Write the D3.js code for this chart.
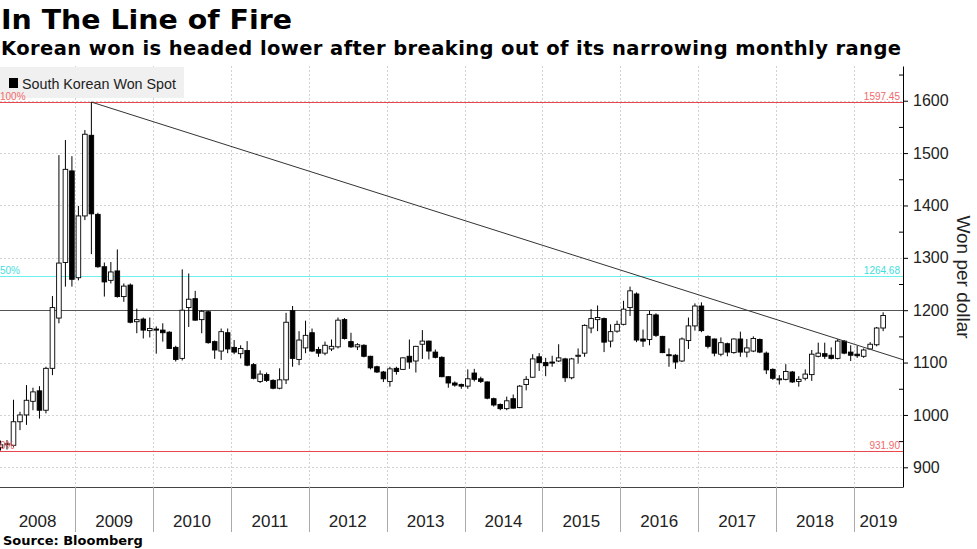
<!DOCTYPE html>
<html>
<head>
<meta charset="utf-8">
<script src="https://cdn.jsdelivr.net/npm/d3@7"></script>
<style>
  body { margin: 0; background: #fff; }
  svg { display: block; }
</style>
</head>
<body>
<svg id="chart"></svg>
<script>
// monthly South Korean won spot (won per dollar), Jan 2008 - May 2019
var months = [
  "2008-01","2008-02","2008-03","2008-04","2008-05","2008-06","2008-07","2008-08","2008-09","2008-10","2008-11","2008-12",
  "2009-01","2009-02","2009-03","2009-04","2009-05","2009-06","2009-07","2009-08","2009-09","2009-10","2009-11","2009-12",
  "2010-01","2010-02","2010-03","2010-04","2010-05","2010-06","2010-07","2010-08","2010-09","2010-10","2010-11","2010-12",
  "2011-01","2011-02","2011-03","2011-04","2011-05","2011-06","2011-07","2011-08","2011-09","2011-10","2011-11","2011-12",
  "2012-01","2012-02","2012-03","2012-04","2012-05","2012-06","2012-07","2012-08","2012-09","2012-10","2012-11","2012-12",
  "2013-01","2013-02","2013-03","2013-04","2013-05","2013-06","2013-07","2013-08","2013-09","2013-10","2013-11","2013-12",
  "2014-01","2014-02","2014-03","2014-04","2014-05","2014-06","2014-07","2014-08","2014-09","2014-10","2014-11","2014-12",
  "2015-01","2015-02","2015-03","2015-04","2015-05","2015-06","2015-07","2015-08","2015-09","2015-10","2015-11","2015-12",
  "2016-01","2016-02","2016-03","2016-04","2016-05","2016-06","2016-07","2016-08","2016-09","2016-10","2016-11","2016-12",
  "2017-01","2017-02","2017-03","2017-04","2017-05","2017-06","2017-07","2017-08","2017-09","2017-10","2017-11","2017-12",
  "2018-01","2018-02","2018-03","2018-04","2018-05","2018-06","2018-07","2018-08","2018-09","2018-10","2018-11","2018-12",
  "2019-01","2019-02","2019-03","2019-04","2019-05"
];

var openVals = [
  938, 943, 942, 987, 1000, 1026, 1046, 1009, 1089, 1185, 1291, 1466,
  1262, 1380, 1534, 1383, 1283, 1257, 1275, 1226, 1248, 1178, 1183, 1161,
  1164, 1162, 1158, 1129, 1108, 1205, 1222, 1182, 1197, 1140, 1122, 1157,
  1129, 1117, 1123, 1096, 1064, 1077, 1066, 1051, 1067, 1199, 1106, 1128,
  1157, 1125, 1118, 1126, 1130, 1182, 1140, 1130, 1133, 1112, 1092, 1082,
  1064, 1089, 1087, 1112, 1103, 1135, 1141, 1120, 1110, 1073, 1061, 1058,
  1055, 1080, 1069, 1063, 1031, 1020, 1012, 1031, 1014, 1058, 1072, 1111,
  1100, 1101, 1103, 1107, 1071, 1112, 1118, 1166, 1182, 1184, 1141, 1160,
  1173, 1205, 1231, 1145, 1144, 1191, 1150, 1115, 1114, 1103, 1142, 1170,
  1208, 1150, 1145, 1116, 1136, 1119, 1145, 1120, 1122, 1144, 1118, 1087,
  1068, 1068, 1082, 1064, 1070, 1077, 1112, 1117, 1114, 1108, 1141, 1120,
  1116, 1112, 1126, 1134, 1166
];
var highVals = [
  951, 952, 1029, 1006, 1057, 1052, 1055, 1092, 1227, 1496, 1525, 1494,
  1399, 1544, 1597.45, 1386, 1291, 1292, 1316, 1251, 1251, 1203, 1186, 1186,
  1169, 1175, 1160, 1132, 1278, 1270, 1237, 1200, 1199, 1142, 1165, 1165,
  1143, 1133, 1141, 1099, 1085, 1081, 1068, 1089, 1195, 1208, 1160, 1180,
  1165, 1130, 1140, 1144, 1186, 1185, 1157, 1137, 1135, 1113, 1094, 1084,
  1092, 1092, 1110, 1144, 1132, 1162, 1142, 1125, 1112, 1074, 1064, 1060,
  1087, 1088, 1073, 1064, 1033, 1022, 1035, 1039, 1057, 1074, 1116, 1118,
  1109, 1113, 1135, 1109, 1109, 1127, 1173, 1202, 1209, 1186, 1173, 1180,
  1218, 1245, 1234, 1163, 1199, 1194, 1151, 1127, 1116, 1148, 1186, 1213,
  1215, 1152, 1146, 1148, 1138, 1146, 1159, 1145, 1150, 1146, 1121, 1089,
  1076, 1097, 1084, 1074, 1087, 1124, 1138, 1138, 1129, 1145, 1143, 1133,
  1132, 1127, 1139, 1168, 1196
];
var lowVals = [
  931.9, 934, 938, 971, 981, 1009, 993, 1003, 1076, 1175, 1245, 1245,
  1257, 1372, 1307, 1281, 1226, 1251, 1224, 1216, 1175, 1156, 1146, 1148,
  1117, 1140, 1126, 1102, 1104, 1168, 1180, 1156, 1136, 1107, 1105, 1118,
  1116, 1108, 1093, 1068, 1061, 1063, 1049, 1049, 1059, 1092, 1095, 1118,
  1120, 1111, 1114, 1122, 1127, 1144, 1128, 1124, 1110, 1087, 1080, 1063,
  1054, 1077, 1086, 1088, 1081, 1107, 1106, 1108, 1072, 1052, 1054, 1050,
  1050, 1064, 1061, 1030, 1016, 1009, 1009, 1012, 1013, 1047, 1071, 1084,
  1074, 1092, 1101, 1063, 1068, 1098, 1111, 1156, 1160, 1120, 1129, 1157,
  1171, 1189, 1139, 1130, 1133, 1149, 1118, 1092, 1088, 1101, 1126, 1161,
  1158, 1127, 1112, 1112, 1112, 1117, 1111, 1110, 1120, 1118, 1078, 1067,
  1058, 1066, 1061, 1054, 1066, 1065, 1110, 1107, 1106, 1106, 1116, 1103,
  1109, 1109, 1125, 1131, 1160
];
var closeVals = [
  943, 945, 987, 1000, 1028, 1044, 1009, 1089, 1205, 1290, 1469, 1259,
  1380, 1536, 1384, 1283, 1254, 1273, 1226, 1246, 1177, 1182, 1162, 1165,
  1162, 1157, 1127, 1106, 1200, 1221, 1181, 1198, 1138, 1124, 1159, 1126,
  1120, 1127, 1095, 1070, 1078, 1066, 1051, 1067, 1177, 1108, 1143, 1152,
  1122, 1118, 1133, 1131, 1181, 1146, 1130, 1134, 1112, 1090, 1082, 1069,
  1088, 1083, 1109, 1101, 1131, 1141, 1122, 1110, 1073, 1061, 1057, 1055,
  1069, 1068, 1064, 1032, 1019, 1012, 1027, 1013, 1055, 1068, 1107, 1100,
  1094, 1099, 1109, 1071, 1107, 1114, 1171, 1184, 1186, 1139, 1159, 1173,
  1202, 1237, 1143, 1141, 1192, 1152, 1119, 1114, 1101, 1145, 1170, 1208,
  1161, 1131, 1118, 1138, 1120, 1145, 1120, 1128, 1146, 1120, 1086, 1070,
  1069, 1083, 1063, 1068, 1078, 1116, 1118, 1112, 1108, 1141, 1118, 1114,
  1113, 1124, 1135, 1166, 1190
];

var years = ["2008","2009","2010","2011","2012","2013","2014","2015","2016","2017","2018","2019"];
var yTicks = [900, 1000, 1100, 1200, 1300, 1400, 1500, 1600];
var yMinor = [950, 1050, 1150, 1250, 1350, 1450, 1550, 1650];

// fibonacci retracement levels
var fibValues = [1597.45, 1264.68, 931.90];
var fibNames = ["100%", "50%", "0%"];
var fibColors = ["#e8484d", "#6df0f0", "#e8484d"];
var fibTextColors = ["#f06a6a", "#3fdede", "#f06a6a"];

// trend line: Mar 2009 high through Oct 2018 high
var trendIdx = [14, 129];
var trendVal = [1597.45, 1145];
var refLevel = 1200;

var W = 977, H = 549;
var plotLeft = 0, plotRight = 903, plotTop = 66, plotBottom = 487;
var labelFont = "'Liberation Sans', Arial, sans-serif";
var boldFont = "'DejaVu Sans', Verdana, sans-serif";

var svg = d3.select("#chart").attr("width", W).attr("height", H);

var x = d3.scaleLinear().domain([-0.08, 139.06]).range([plotLeft, plotRight]);
var y = d3.scaleLinear().domain([862.4, 1666.3]).range([plotBottom, plotTop]);

svg.append("defs").append("clipPath").attr("id", "plotclip")
  .append("rect").attr("x", plotLeft).attr("y", plotTop)
  .attr("width", plotRight - plotLeft).attr("height", plotBottom - plotTop);

// titles
svg.append("text").attr("x", 1).attr("y", 29)
  .attr("font-family", boldFont).attr("font-weight", "bold")
  .attr("font-size", 27).attr("textLength", 291).attr("lengthAdjust", "spacingAndGlyphs")
  .attr("fill", "#000").text("In The Line of Fire");
svg.append("text").attr("x", 1).attr("y", 55)
  .attr("font-family", boldFont).attr("font-weight", "bold")
  .attr("font-size", 19.5).attr("textLength", 900).attr("lengthAdjust", "spacing")
  .attr("fill", "#000").text("Korean won is headed lower after breaking out of its narrowing monthly range");

// grid
var yearEdges = d3.range(1, years.length).map(function(k) { return x(12 * k - 0.5); });

svg.append("g").selectAll("line").data(yTicks).enter().append("line")
  .attr("x1", plotLeft).attr("x2", plotRight)
  .attr("y1", function(d) { return Math.round(y(d)) + 0.5; })
  .attr("y2", function(d) { return Math.round(y(d)) + 0.5; })
  .attr("stroke", "#d2d2d2").attr("stroke-dasharray", "2,2");

svg.append("g").selectAll("line").data(yearEdges).enter().append("line")
  .attr("x1", function(d) { return Math.round(d) + 0.5; })
  .attr("x2", function(d) { return Math.round(d) + 0.5; })
  .attr("y1", plotTop).attr("y2", plotBottom)
  .attr("stroke", "#d2d2d2").attr("stroke-dasharray", "2,2");

// legend
svg.append("rect").attr("x", 0).attr("y", 67).attr("width", 184).attr("height", 31).attr("fill", "#f0f0f0");
svg.append("rect").attr("x", 9).attr("y", 78).attr("width", 9).attr("height", 10).attr("fill", "#000");
svg.append("text").attr("x", 22).attr("y", 89)
  .attr("font-family", labelFont).attr("font-size", 14.3).attr("fill", "#222")
  .text("South Korean Won Spot");

// reference lines
var plotG = svg.append("g").attr("clip-path", "url(#plotclip)");

plotG.append("line").attr("x1", plotLeft).attr("x2", plotRight)
  .attr("y1", Math.round(y(refLevel)) + 0.5).attr("y2", Math.round(y(refLevel)) + 0.5)
  .attr("stroke", "#555").attr("stroke-width", 1);

plotG.selectAll(".fib").data(fibValues).enter().append("line")
  .attr("class", "fib")
  .attr("x1", plotLeft).attr("x2", plotRight)
  .attr("y1", function(d) { return Math.round(y(d)) + 0.5; })
  .attr("y2", function(d) { return Math.round(y(d)) + 0.5; })
  .attr("stroke", function(d, i) { return fibColors[i]; }).attr("stroke-width", 1.1);

// candles
var candles = months.map(function(m, i) {
  return { i: i, o: openVals[i], h: highVals[i], l: lowVals[i], c: closeVals[i] };
});
var bw = 4.6;

var cg = plotG.append("g").selectAll("g").data(candles).enter().append("g");
cg.append("line")
  .attr("x1", function(d) { return x(d.i); })
  .attr("x2", function(d) { return x(d.i); })
  .attr("y1", function(d) { return y(d.h); })
  .attr("y2", function(d) { return y(d.l); })
  .attr("stroke", "#000").attr("stroke-width", 1);
cg.append("rect")
  .attr("x", function(d) { return x(d.i) - bw / 2; })
  .attr("y", function(d) { return y(Math.max(d.o, d.c)); })
  .attr("width", bw)
  .attr("height", function(d) { return Math.max(1, Math.abs(y(d.o) - y(d.c))); })
  .attr("fill", function(d) { return d.c >= d.o ? "#fff" : "#000"; })
  .attr("stroke", "#000").attr("stroke-width", 0.9);

// trend line extended to the axis
var slope = (trendVal[1] - trendVal[0]) / (trendIdx[1] - trendIdx[0]);
var xEnd = x.domain()[1];
plotG.append("line")
  .attr("x1", x(trendIdx[0])).attr("y1", y(trendVal[0]))
  .attr("x2", x(xEnd)).attr("y2", y(trendVal[0] + slope * (xEnd - trendIdx[0])))
  .attr("stroke", "#333").attr("stroke-width", 1);

// level labels
svg.selectAll(".fibname").data(fibValues).enter().append("text")
  .attr("x", 0).attr("y", function(d) { return y(d) - 2; })
  .attr("font-family", labelFont).attr("font-size", 10)
  .attr("fill", function(d, i) { return fibTextColors[i]; })
  .text(function(d, i) { return fibNames[i]; });
svg.selectAll(".fibval").data(fibValues).enter().append("text")
  .attr("x", plotRight - 3).attr("y", function(d) { return y(d) - 2; })
  .attr("text-anchor", "end")
  .attr("font-family", labelFont).attr("font-size", 10)
  .attr("fill", function(d, i) { return fibTextColors[i]; })
  .text(function(d) { return d3.format(".2f")(d); });

// right axis
var yAxis = d3.axisRight(y).tickValues(yTicks).tickSize(5).tickSizeOuter(0).tickPadding(5)
  .tickFormat(d3.format("d"));
var ax = svg.append("g").attr("transform", "translate(" + plotRight + ",0)").call(yAxis);
ax.select(".domain").attr("stroke", "#000");
ax.selectAll("text").attr("font-family", labelFont).attr("font-size", 16).attr("fill", "#222");

var yAxisMinor = d3.axisLeft(y).tickValues(yMinor).tickSize(4).tickSizeOuter(0).tickFormat("");
var axm = svg.append("g").attr("transform", "translate(" + plotRight + ",0)").call(yAxisMinor);
axm.select(".domain").remove();

svg.append("text")
  .attr("transform", "translate(957,277) rotate(90)")
  .attr("text-anchor", "middle")
  .attr("font-family", labelFont).attr("font-size", 19).attr("fill", "#222")
  .text("Won per dollar");

// bottom year axis
svg.append("line").attr("x1", plotLeft).attr("x2", plotRight)
  .attr("y1", plotBottom + 0.5).attr("y2", plotBottom + 0.5).attr("stroke", "#444");
svg.append("g").selectAll("line").data(yearEdges).enter().append("line")
  .attr("x1", function(d) { return Math.round(d) + 0.5; })
  .attr("x2", function(d) { return Math.round(d) + 0.5; })
  .attr("y1", plotBottom).attr("y2", 532)
  .attr("stroke", "#aaa");

var bounds = [plotLeft].concat(yearEdges).concat([plotRight]);
svg.append("g").selectAll("text").data(years).enter().append("text")
  .attr("x", function(d, k) { return (bounds[k] + bounds[k + 1]) / 2; })
  .attr("y", 527)
  .attr("text-anchor", "middle")
  .attr("font-family", labelFont).attr("font-size", 17).attr("fill", "#222")
  .text(function(d) { return d; });

svg.append("text").attr("x", 3).attr("y", 545)
  .attr("font-family", boldFont).attr("font-weight", "bold").attr("font-size", 13)
  .attr("fill", "#000").text("Source: Bloomberg");
</script>
</body>
</html>
